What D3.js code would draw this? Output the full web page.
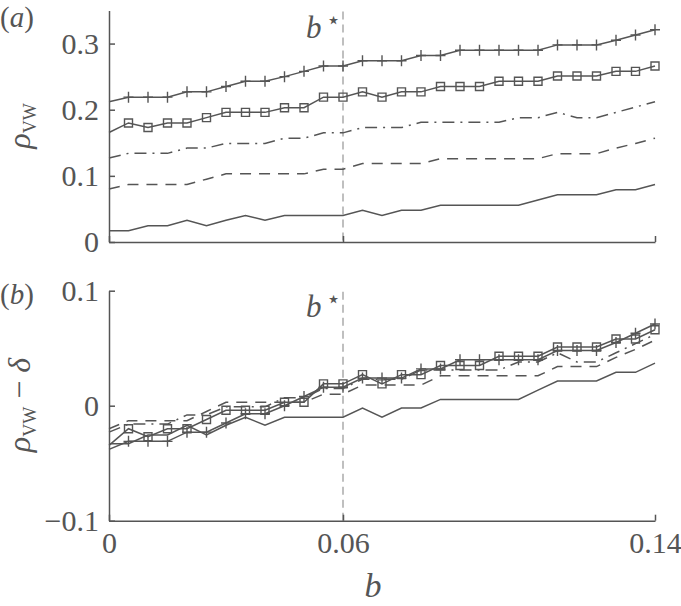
<!DOCTYPE html>
<html><head><meta charset="utf-8">
<script src="https://cdn.jsdelivr.net/npm/d3@7"></script>
<style>
html,body{margin:0;padding:0;background:#fff;}
svg{display:block;}
text{font-family:"Liberation Serif","DejaVu Serif",serif;fill:#555;}
</style></head>
<body>
<svg id="chart" width="681" height="606"></svg>
<script>
// ---- data ----
const bValues = [0,0.005,0.01,0.015,0.02,0.025,0.03,0.035,0.04,0.045,0.05,0.055,0.06,0.065,0.07,0.075,0.08,0.085,0.09,0.095,0.1,0.105,0.11,0.115,0.12,0.125,0.13,0.135,0.14];
const bStar = 0.06;

// panel (a): rho_vw
const rhoPlus   = [0.212,0.219,0.219,0.219,0.227,0.227,0.235,0.243,0.243,0.250,0.258,0.266,0.266,0.274,0.274,0.274,0.282,0.282,0.290,0.290,0.290,0.290,0.290,0.298,0.298,0.298,0.305,0.313,0.321];
const rhoSquare = [0.1655,0.180,0.173,0.180,0.180,0.188,0.196,0.196,0.196,0.203,0.203,0.219,0.219,0.227,0.219,0.227,0.227,0.235,0.235,0.235,0.243,0.243,0.243,0.251,0.251,0.251,0.258,0.258,0.266];
const rhoDashDot= [0.127,0.134,0.134,0.134,0.142,0.142,0.149,0.149,0.149,0.157,0.157,0.165,0.165,0.173,0.173,0.173,0.181,0.181,0.181,0.181,0.181,0.188,0.188,0.196,0.188,0.188,0.196,0.204,0.212];
const rhoDashed = [0.080,0.087,0.087,0.087,0.087,0.095,0.103,0.103,0.103,0.103,0.103,0.110,0.110,0.1185,0.1185,0.1185,0.1185,0.126,0.126,0.126,0.126,0.126,0.126,0.1336,0.1336,0.1336,0.142,0.149,0.157];
const rhoSolid  = [0.017,0.017,0.0245,0.0245,0.033,0.0245,0.033,0.040,0.033,0.040,0.040,0.040,0.040,0.048,0.040,0.048,0.048,0.0555,0.0555,0.0555,0.0555,0.0555,0.0635,0.0715,0.0715,0.0715,0.079,0.079,0.087];

// panel (b): rho_vw - delta
const difPlus   = [-0.038,-0.031,-0.031,-0.031,-0.023,-0.023,-0.015,-0.007,-0.007,0.000,0.008,0.016,0.016,0.024,0.024,0.024,0.032,0.032,0.040,0.040,0.040,0.040,0.040,0.048,0.048,0.048,0.055,0.063,0.071];
const difSquare = [-0.0345,-0.020,-0.027,-0.020,-0.020,-0.012,-0.004,-0.004,-0.004,0.003,0.003,0.019,0.019,0.027,0.019,0.027,0.027,0.035,0.035,0.035,0.043,0.043,0.043,0.051,0.051,0.051,0.058,0.058,0.066];
const difDashDot= [-0.023,-0.016,-0.016,-0.016,-0.008,-0.008,-0.001,-0.001,-0.001,0.007,0.007,0.015,0.015,0.023,0.023,0.023,0.031,0.031,0.031,0.031,0.031,0.038,0.038,0.046,0.038,0.038,0.046,0.054,0.062];
const difDashed = [-0.020,-0.013,-0.013,-0.013,-0.013,-0.005,0.003,0.003,0.003,0.003,0.003,0.010,0.010,0.018,0.018,0.018,0.018,0.026,0.026,0.026,0.026,0.026,0.026,0.034,0.034,0.034,0.042,0.049,0.057];
const difSolid  = [-0.033,-0.033,-0.0255,-0.0255,-0.017,-0.0255,-0.017,-0.010,-0.017,-0.010,-0.010,-0.010,-0.010,-0.002,-0.010,-0.002,-0.002,0.0055,0.0055,0.0055,0.0055,0.0055,0.0135,0.0215,0.0215,0.0215,0.029,0.029,0.037];

const xTicks = [0, 0.06, 0.14];
const xTickLabels = ["0", "0.06", "0.14"];
const yTicksA = [0, 0.1, 0.2, 0.3];
const yTickLabelsA = ["0", "0.1", "0.2", "0.3"];
const yTicksB = [-0.1, 0, 0.1];
const yTickLabelsB = ["\u22120.1", "0", "0.1"];

// ---- drawing ----
const ink = "#555";
const svg = d3.select("#chart");
const x = d3.scaleLinear().domain([0, 0.14]).range([109, 655]);
const yA = d3.scaleLinear().domain([0, 0.35]).range([242, 10.5]);
const yB = d3.scaleLinear().domain([-0.1, 0.1]).range([520.7, 290.7]);

const styles = {
  plus:    {dash: null, marker: "plus"},
  square:  {dash: null, marker: "square"},
  dashdot: {dash: "12,6,2,6", marker: null},
  dashed:  {dash: "11,8", marker: null},
  solid:   {dash: null, marker: null}
};

function drawPanel(g, y, seriesList, yTicks, yLabels, showXLabels) {
  // vertical b* line
  g.append("line")
    .attr("x1", x(bStar)).attr("x2", x(bStar))
    .attr("y1", y.range()[1] + 1).attr("y2", y.range()[0])
    .attr("stroke", "#aaa").attr("stroke-width", 1.5)
    .attr("stroke-dasharray", "8,5");

  // axes
  const ax = d3.axisLeft(y).tickValues(yTicks)
    .tickFormat((d, i) => yLabels[i]).tickSize(-6).tickSizeOuter(0).tickPadding(10);
  const gy = g.append("g").attr("transform", `translate(${x.range()[0]},0)`).call(ax);
  const bx = d3.axisBottom(x).tickValues(xTicks)
    .tickFormat((d, i) => showXLabels ? xTickLabels[i] : "").tickSize(-6).tickSizeOuter(0).tickPadding(11);
  const gx = g.append("g").attr("transform", `translate(0,${y.range()[0]})`).call(bx);
  [gy, gx].forEach(a => {
    a.select(".domain").attr("stroke", ink).attr("stroke-width", 1.5);
    a.selectAll(".tick line").attr("stroke", ink).attr("stroke-width", 1.5);
    a.selectAll(".tick text").attr("font-size", 30)
      .attr("font-family", "Liberation Serif, DejaVu Serif, serif").attr("fill", ink);
  });

  const line = d3.line().x((d, i) => x(bValues[i])).y(d => y(d));
  seriesList.forEach(s => {
    const st = styles[s.kind];
    g.append("path").datum(s.values)
      .attr("d", line).attr("fill", "none")
      .attr("stroke", ink).attr("stroke-width", 1.5)
      .attr("stroke-dasharray", st.dash);
    if (st.marker) {
      const pts = s.values.map((v, i) => [bValues[i], v]).slice(1);
      const m = g.append("g").selectAll("path").data(pts).join("path")
        .attr("transform", d => `translate(${x(d[0])},${y(d[1])})`)
        .attr("fill", "none").attr("stroke", ink).attr("stroke-width", 1.4);
      if (st.marker === "plus") m.attr("d", "M-5,0H5M0,-5.5V5.5");
      else m.attr("d", "M-4,-4H4V4H-4Z");
    }
  });
}

const gA = svg.append("g");
drawPanel(gA, yA, [
  {kind: "solid", values: rhoSolid},
  {kind: "dashed", values: rhoDashed},
  {kind: "dashdot", values: rhoDashDot},
  {kind: "square", values: rhoSquare},
  {kind: "plus", values: rhoPlus}
], yTicksA, yTickLabelsA, false);

const gB = svg.append("g");
drawPanel(gB, yB, [
  {kind: "solid", values: difSolid},
  {kind: "dashed", values: difDashed},
  {kind: "dashdot", values: difDashDot},
  {kind: "square", values: difSquare},
  {kind: "plus", values: difPlus}
], yTicksB, yTickLabelsB, true);

// panel letters
svg.append("text").attr("x", 0).attr("y", 27).attr("font-size", 29)
  .html('(<tspan font-style="italic">a</tspan>)');
svg.append("text").attr("x", 0).attr("y", 304).attr("font-size", 29)
  .html('(<tspan font-style="italic">b</tspan>)');

// b* labels
function bStarLabel(yBase) {
  const t = svg.append("text").attr("x", 306).attr("y", yBase).attr("font-size", 31);
  t.append("tspan").attr("font-style", "italic").text("b");
  t.append("tspan").attr("dx", 4).attr("dy", -10).attr("font-size", 24).text("\u22C6");
}
bStarLabel(38);
bStarLabel(317);

// y axis labels
function yLabel(cy, withDelta) {
  const t = svg.append("text")
    .attr("transform", `translate(30,${cy}) rotate(-90)`)
    .attr("text-anchor", "middle").attr("font-size", 32);
  t.append("tspan").attr("font-style", "italic").text("\u03C1");
  t.append("tspan").attr("font-size", 18).attr("dy", 6).text("VW");
  if (withDelta) {
    t.append("tspan").attr("dy", -6).text(" \u2212 ");
    t.append("tspan").attr("font-style", "italic").text("\u03B4");
  }
}
yLabel(126, false);
yLabel(405, true);

// x axis label
svg.append("text").attr("x", 373).attr("y", 597).attr("text-anchor", "middle")
  .attr("font-size", 34).attr("font-style", "italic").text("b");
</script>
</body></html>
